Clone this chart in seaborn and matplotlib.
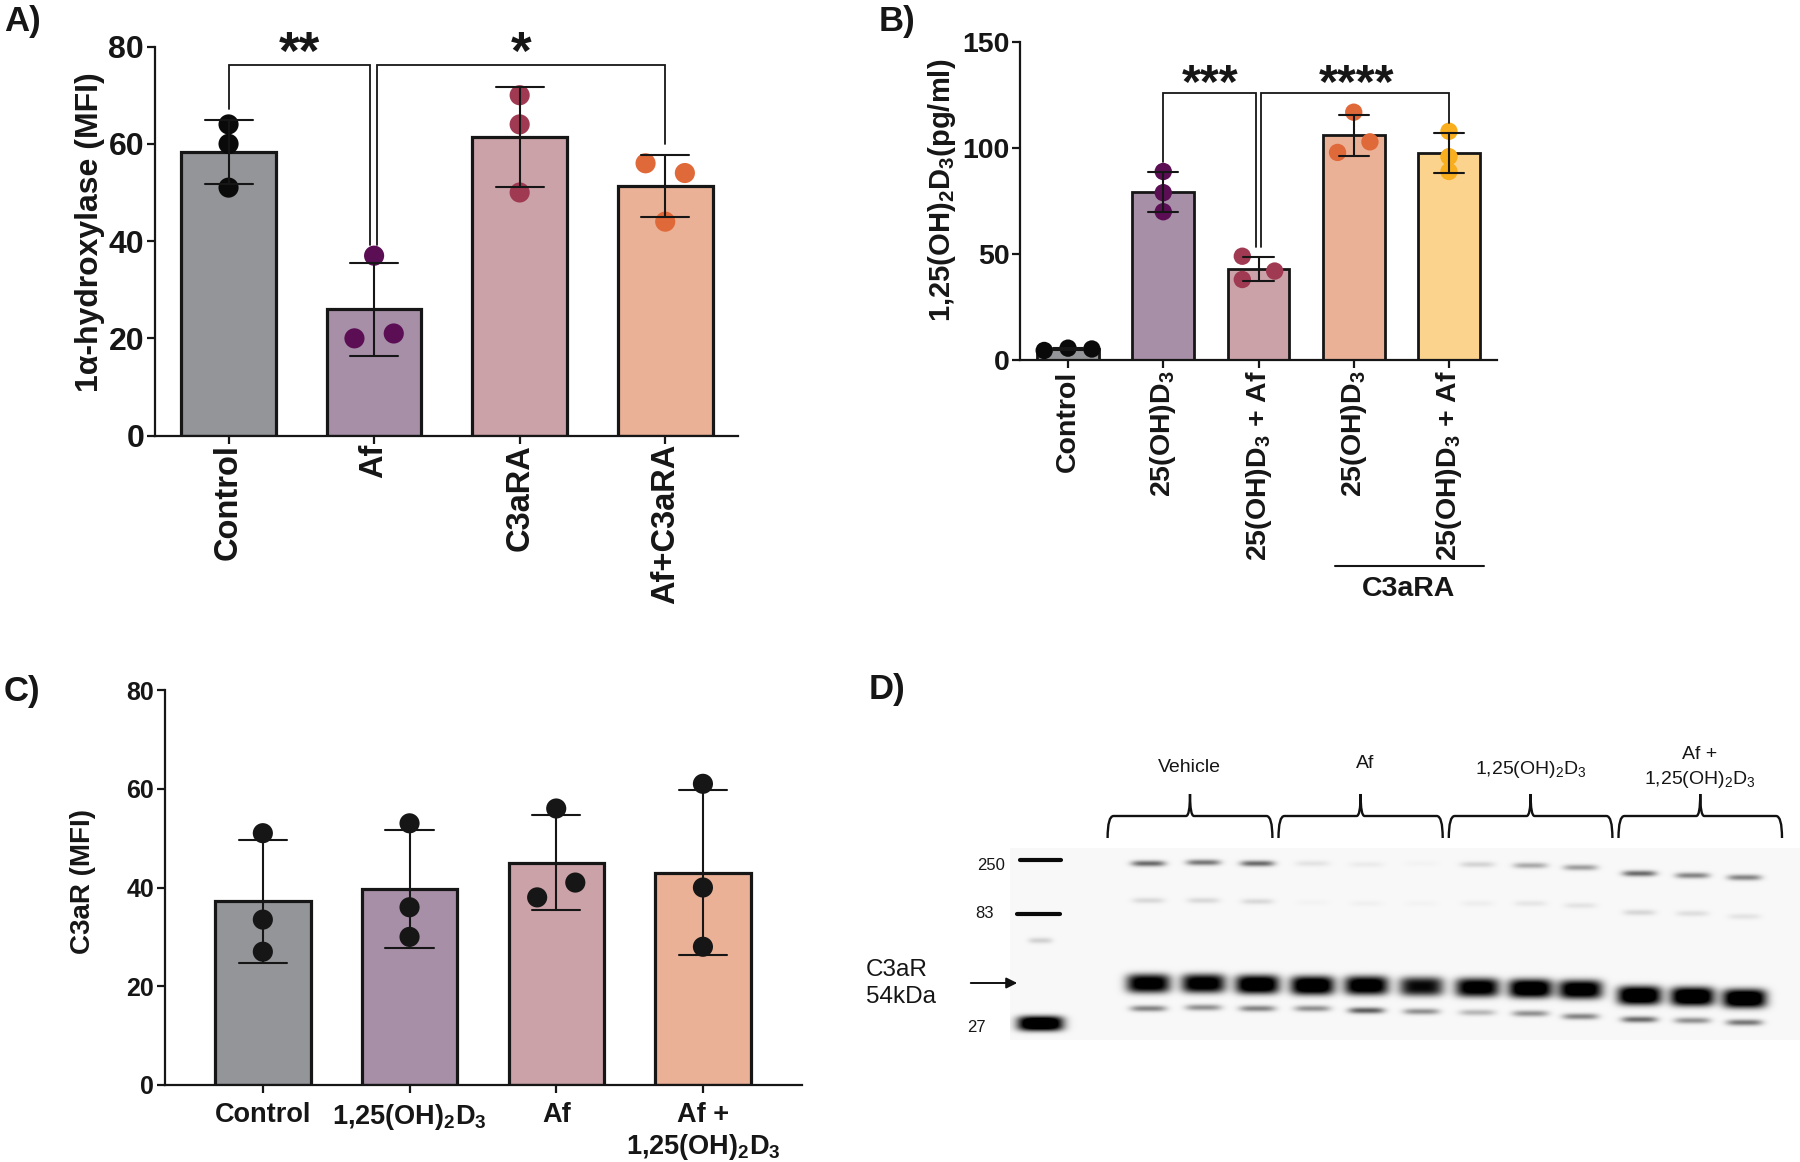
import matplotlib
matplotlib.use("Agg")
import matplotlib.pyplot as plt
from matplotlib.path import Path
from matplotlib.patches import PathPatch
import numpy as np
import pandas as pd
import seaborn as sns

# panel A
a_labels = ["Control", "Af", "C3aRA", "Af+C3aRA"]
a_values = [[51, 60, 64], [20, 21, 37], [50, 64, 70], [56, 54, 44]]

# panel B
b_labels = ["Control", "25(OH)D$_3$", "25(OH)D$_3$ + Af", "25(OH)D$_3$", "25(OH)D$_3$ + Af"]
b_values = [[4.5, 5.6, 5.2], [70, 79, 89], [49, 42, 38], [98, 103, 117], [89, 96, 108]]

# panel C
c_labels = ["Control", "1,25(OH)$_2$D$_3$", "Af", "Af +\n1,25(OH)$_2$D$_3$"]
c_values = [[27, 33.5, 51], [30, 36, 53], [38, 41, 56], [28, 40, 61]]

# panel D, blot lanes (pixel rows of the image, darkness 0-1)
lane_x = [1148, 1203, 1257, 1312, 1366, 1421, 1477, 1530, 1580, 1639, 1692, 1744]
main_y = [983, 983, 984, 985, 985, 986, 987, 988, 989, 995, 996, 998]
main_dark = [1.1, 1.1, 1.2, 1.2, 1.15, 0.95, 1.1, 1.2, 1.15, 1.25, 1.25, 1.25]
low_y = [1008, 1007, 1008, 1008, 1010, 1011, 1012, 1013, 1016, 1019, 1020, 1022]
low_dark = [0.45, 0.4, 0.45, 0.4, 0.6, 0.4, 0.25, 0.4, 0.45, 0.55, 0.4, 0.5]
up_y = [863, 862, 863, 863, 864, 863, 864, 865, 867, 873, 875, 877]
up_dark = [0.55, 0.5, 0.55, 0.08, 0.05, 0.02, 0.14, 0.3, 0.35, 0.55, 0.45, 0.45]
faint_y = [900, 900, 901, 902, 903, 903, 903, 903, 905, 912, 913, 916]
faint_dark = [0.12, 0.12, 0.12, 0.02, 0.03, 0.02, 0.04, 0.07, 0.08, 0.13, 0.1, 0.08]
blot_groups = ["Vehicle", "Af", "1,25(OH)$_2$D$_3$", "Af +\n1,25(OH)$_2$D$_3$"]

bar_colors = ["#939598", "#A78FA8", "#CBA2A8", "#EAB196", "#FBD38D"]
dot_colors = ["#0A0A0A", "#5C0E55", "#A03A52", "#E0693A", "#F9AE1E"]
ink = "#161616"

W, H = 1800, 1162

sns.set_theme(style="ticks")
plt.rcParams["font.family"] = ["Liberation Sans", "DejaVu Sans"]
plt.rcParams["mathtext.default"] = "regular"
plt.rcParams["text.color"] = ink
plt.rcParams["axes.labelcolor"] = ink
plt.rcParams["xtick.color"] = ink
plt.rcParams["ytick.color"] = ink

fig = plt.figure(figsize=(W / 100, H / 100), dpi=100, facecolor="white")


def px_axes(left, top, right, bottom):
    return fig.add_axes([left / W, 1 - bottom / H, (right - left) / W, (bottom - top) / H])


def bar_panel(box, labels, values, colors, dots, spread, ymax, yticks, xlim, capsize, dot_size, lw):
    ax = px_axes(*box)
    df = pd.DataFrame(
        {
            "group": [str(i) for i, v in enumerate(values) for _ in v],
            "value": [x for v in values for x in v],
        }
    )
    sns.barplot(
        data=df, x="group", y="value", hue="group", palette=colors[: len(values)],
        errorbar="sd", capsize=capsize, width=0.65, edgecolor=ink, linewidth=lw,
        saturation=1, legend=False, err_kws={"color": ink, "linewidth": 1.5}, ax=ax,
    )
    sns.stripplot(
        data=df, x="group", y="value", hue="group", palette=dots[: len(values)],
        jitter=False, size=dot_size, linewidth=0, legend=False, ax=ax,
    )
    # spread the dots sideways like prism does
    for coll, dx in zip(ax.collections, spread):
        pts = coll.get_offsets()
        pts[:, 0] += np.array(dx)
        coll.set_offsets(pts)
    for line in ax.lines:
        line.set_zorder(4)
    ax.set_xlim(*xlim)
    ax.set_ylim(0, ymax)
    ax.set_yticks(yticks)
    ax.set_xticks(range(len(labels)))
    ax.set_xlabel("")
    sns.despine(ax=ax)
    for side in ["left", "bottom"]:
        ax.spines[side].set_linewidth(1.6)
        ax.spines[side].set_color(ink)
    ax.tick_params(length=5.5, width=1.6, color=ink, pad=2)
    return ax


def bracket(ax, xs, ys):
    ax.plot(xs, ys, color=ink, lw=1.3, clip_on=False, solid_joinstyle="miter", zorder=5)


# A
ax = bar_panel(
    (154.6, 46.6, 738, 435.6), a_labels, a_values, bar_colors, dot_colors,
    [[0, 0, 0], [-0.135, 0.135, 0], [0, 0, 0], [-0.135, 0.135, 0]],
    80, [0, 20, 40, 60, 80], (-0.508, 3.5), 0.33, 14.5, 2.3,
)
ax.set_xticklabels(a_labels, rotation=90, fontsize=23.5, fontweight="bold")
ax.tick_params(axis="x", pad=0.5)
ax.set_yticklabels([0, 20, 40, 60, 80], fontsize=23, fontweight="bold")
ax.set_ylabel("1α-hydroxylase (MFI)", fontsize=23, fontweight="bold", va="center")
ax.yaxis.set_label_coords(-0.11, 0.523)
bracket(ax, [0, 0, 0.97, 0.97], [67.2, 76.2, 76.2, 39.2])
bracket(ax, [1.02, 1.02, 3, 3], [39.2, 76.2, 76.2, 60])
ax.text(0.49, 78.2, "**", fontsize=38, fontweight="bold", ha="center", va="center")
ax.text(2.01, 78.2, "*", fontsize=38, fontweight="bold", ha="center", va="center")

# B
ax = bar_panel(
    (1020.4, 42.3, 1496.6, 360), b_labels, b_values, bar_colors, dot_colors,
    [[-0.25, 0, 0.25], [0, 0, 0], [-0.17, 0.17, -0.17], [-0.17, 0.17, 0], [0, 0, 0]],
    150, [0, 50, 100, 150], (-0.5, 4.5), 0.32, 12.5, 2.0,
)
ax.set_xticklabels(b_labels, rotation=90, fontsize=20.5, fontweight="bold")
ax.set_yticklabels([0, 50, 100, 150], fontsize=20.5, fontweight="bold")
ax.set_ylabel("1,25(OH)$_2$D$_3$(pg/ml)", fontsize=21, fontweight="bold", va="center")
ax.yaxis.set_label_coords(-0.165, 0.533)
bracket(ax, [1, 1, 1.97, 1.97], [93.5, 126, 126, 53.3])
bracket(ax, [2.03, 2.03, 4, 4], [53.3, 126, 126, 112])
ax.text(1.49, 130.3, "***", fontsize=35, fontweight="bold", ha="center", va="center")
ax.text(3.03, 130.3, "****", fontsize=35, fontweight="bold", ha="center", va="center")

# C
ax = bar_panel(
    (164.7, 690, 801.8, 1085), c_labels, c_values, bar_colors, [ink] * 5,
    [[0, 0, 0], [0, 0, 0], [-0.13, 0.13, 0], [0, 0, 0]],
    80, [0, 20, 40, 60, 80], (-0.669, 3.674), 0.33, 14.5, 2.3,
)
ax.set_xticklabels(c_labels, fontsize=19.5, fontweight="bold")
ax.tick_params(axis="x", pad=6.5)
ax.set_yticklabels([0, 20, 40, 60, 80], fontsize=18, fontweight="bold")
ax.set_ylabel("C3aR (MFI)", fontsize=20, fontweight="bold", va="center")
ax.yaxis.set_label_coords(-0.128, 0.515)

# D, the blot as a heatmap
rows, cols = np.mgrid[848:1040, 1010:1800]
gel = np.full(rows.shape, 0.03)


def add_band(x, y, half_w, half_h, dark, power=2):
    global gel
    gel = gel + dark * np.exp(-(((cols - x) / half_w) ** 4)) * np.exp(-np.abs((rows - y) / half_h) ** power)


for i, x in enumerate(lane_x):
    add_band(x, main_y[i], 22, 9.5, main_dark[i], 3)
    add_band(x, low_y[i], 18, 3.2, low_dark[i])
    add_band(x, up_y[i], 17, 3, up_dark[i])
    add_band(x, faint_y[i], 16, 3, faint_dark[i])
add_band(1040, 1023, 23, 7.5, 1.3, 3)
add_band(1040, 940, 12, 3, 0.15)

gel_ax = px_axes(1010, 848, 1800, 1040)
sns.heatmap(np.clip(gel, 0, 1), cmap="gray_r", vmin=0, vmax=1, cbar=False,
            xticklabels=False, yticklabels=False, ax=gel_ax)
gel_ax.axis("off")

# everything placed by pixel goes on one overlay
ov = fig.add_axes([0, 0, 1, 1], zorder=10)
ov.set_xlim(0, W)
ov.set_ylim(H, 0)
ov.axis("off")
ov.patch.set_alpha(0)

for text, x, y in [("A)", 4, 22), ("B)", 879, 22), ("C)", 4, 691), ("D)", 869, 689)]:
    ov.text(x, y, text, fontsize=25, fontweight="bold", va="center")

# bar under the two C3aRA groups
ov.plot([1335, 1483.6], [566, 566], color=ink, lw=1.5)
ov.text(1409, 589, "C3aRA", fontsize=20.5, fontweight="bold", ha="center", va="center")


def brace(x0, x1):
    mid = (x0 + x1) / 2
    top, bar, foot = 794, 816, 838
    verts = [
        (x0, foot), (x0, bar), (x0 + 6, bar), (mid - 4, bar), (mid, bar), (mid, top),
        (mid, bar), (mid + 4, bar), (x1 - 6, bar), (x1, bar), (x1, foot),
    ]
    codes = [Path.MOVETO, Path.CURVE3, Path.CURVE3, Path.LINETO, Path.CURVE3, Path.CURVE3,
             Path.CURVE3, Path.CURVE3, Path.LINETO, Path.CURVE3, Path.CURVE3]
    ov.add_patch(PathPatch(Path(verts, codes), fc="none", ec="#111111", lw=1.7))


for x0, x1 in [(1107.6, 1272.4), (1278.5, 1442.7), (1448.8, 1612.4), (1618.5, 1782)]:
    brace(x0, x1)

ov.text(1189, 767, blot_groups[0], fontsize=14, ha="center", va="center")
ov.text(1365, 764, blot_groups[1], fontsize=14, ha="center", va="center")
ov.text(1531, 770, blot_groups[2], fontsize=14, ha="center", va="center")
ov.text(1700, 768, blot_groups[3], fontsize=14, ha="center", va="center", linespacing=1.35)

# ladder marks and sizes
ov.plot([1020, 1061], [860, 860], color="#0A0A0A", lw=3)
ov.plot([1017, 1060], [914, 914], color="#0A0A0A", lw=3)
ov.text(991, 865, "250", fontsize=12, ha="center", va="center")
ov.text(984, 913, "83", fontsize=12, ha="center", va="center")
ov.text(976, 1028, "27", fontsize=12, ha="center", va="center")
ov.text(866, 970, "C3aR", fontsize=17.5, va="center")
ov.text(866, 997, "54kDa", fontsize=17.5, va="center")
ov.annotate("", xy=(1020, 983), xytext=(968, 983),
            arrowprops=dict(arrowstyle="-|>", color="#111111", lw=1.4, mutation_scale=16))

fig.savefig("out.png", dpi=100)
